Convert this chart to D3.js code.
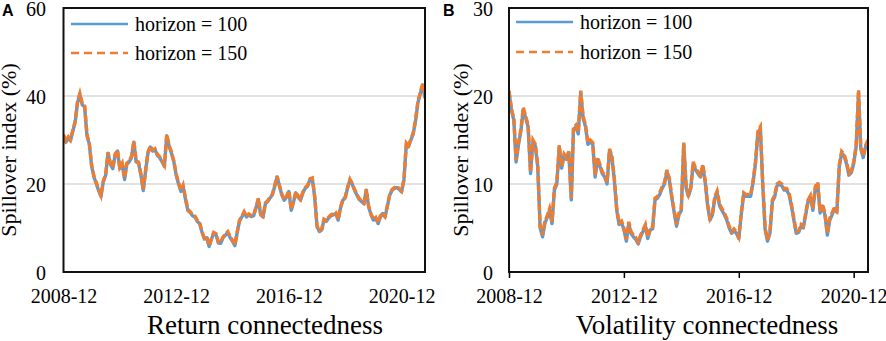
<!DOCTYPE html>
<html><head><meta charset="utf-8">
<script src="https://cdn.jsdelivr.net/npm/d3@7"></script>
<style>body{margin:0;background:#fff}svg{display:block}svg text{font-family:'Liberation Serif','Times New Roman',serif}</style>
</head><body>
<svg id="chart" width="886" height="341"></svg>
<script>
// ---- Data (monthly readings from the reference) ----
const seriesNames = ["horizon = 100", "horizon = 150"];
const xTickLabels = ["2008-12", "2012-12", "2016-12", "2020-12"];
const yTicksA = [0, 20, 40, 60];
const yTicksB = [0, 10, 20, 30];
const startA = "2008-12", endA = "2021-10";
const startB = "2008-12", endB = "2021-06";

const returnH100 = [31,29.5,30.5,29.8,32,34,38.5,40.3,38,37.5,
31,29,24,21.5,20,18.5,17.2,20.5,22,27,
24.5,23.5,26.5,27.5,23.5,24.6,21,24.5,25,26,
29.5,25,24.8,22,18.5,23,27,28.4,27.5,27.8,
26.5,26,25,24,31,28.5,27,25,22,20,
18.3,19.5,16.5,14,13.5,12.8,12.5,11.5,11,9,
7.5,7.8,5.8,7.3,8.8,8.5,6.6,6.5,7.8,8.4,
9,7.8,7,6,9,11.5,12.5,13.5,12.5,13,
12.6,12.8,14.5,16.5,13,12.5,15.5,16,16.8,17.5,
19.5,21.6,19.5,17.5,16.3,17,18.3,14,16,18,
17,16.3,18,19,19.5,21,21.2,17,10.3,9.2,
9.6,11.8,11.5,12.3,12.8,13,13.3,11.8,14.5,16.3,
16.8,19,20.9,20,18.6,17.5,16.5,16,15.5,18.6,
14.8,13,11.8,12.2,11,12.5,13.3,12.5,15,17.5,
18.6,19,19.2,18.8,18.2,20.9,29,28.5,30,31.4,
34.4,38.5,40.5,42.5,39.5];
const returnH150 = [31.2,29.8,30.7,30,32.3,34.2,38.8,40.6,38.3,37.8,
31.3,29.2,24.3,21.7,20.2,18.8,17.4,20.7,22.3,27.2,
24.7,23.8,26.8,27.7,23.8,24.8,21.3,24.7,25.2,26.3,
29.7,25.3,25,22.3,18.8,23.2,27.3,28.6,27.7,28,
26.8,26.2,25.3,24.3,31.2,28.7,27.3,25.2,22.3,20.2,
18.5,19.7,16.8,14.2,13.7,13,12.7,11.7,11.2,9.2,
7.7,8,6,7.5,9,8.7,6.8,6.7,8,8.6,
9.2,8,7.2,6.2,9.2,11.7,12.7,13.7,12.7,13.2,
12.8,13,14.7,16.7,13.2,12.7,15.7,16.2,17,17.7,
19.7,21.8,19.7,17.7,16.5,17.2,18.5,14.2,16.2,18.2,
17.2,16.5,18.2,19.2,19.7,21.2,21.4,17.2,10.5,9.4,
9.8,12,11.7,12.5,13,13.2,13.5,12,14.7,16.5,
17,19.2,21.1,20.2,18.8,17.7,16.7,16.2,15.7,18.8,
15,13.2,12,12.4,11.2,12.7,13.5,12.7,15.2,17.7,
18.8,19.2,19.4,19,18.4,21.1,29.3,28.7,30.2,31.6,
34.6,38.8,40.8,42.8,39.8];

const volH100 = [20.5,18.4,17.2,12.5,14.5,16,18.5,17.5,16.5,11.2,
14.8,14.3,12,5,4,5.5,6.2,7,5.5,9.3,
10,14.2,11.8,13.2,12.8,13.5,8.2,16.2,16.5,15.7,
20.4,17.5,16.5,14.5,14.8,14.5,10.8,12.8,12,11.2,
10.8,10,13.8,13,10.5,7,5.4,5.6,4.8,3.5,
5.5,4.4,4,3.7,3.2,4,4.6,5.2,3.8,4.8,
4.9,8.2,8.4,8.8,9.5,10,11.4,10.5,8.5,6.8,
5.2,6.5,7,14.5,9.5,8.6,9.5,12.3,11.6,11.2,
10.8,12,10.2,7.5,5.9,6.5,8.4,9,7.5,7,
6.5,5.9,5,4.4,4.7,4.4,3.8,6.5,8.8,8.6,
8.6,8.6,10.2,12.3,15.8,16.3,10,4.8,3.5,4.4,
8,8.5,9.8,10,9.8,9.3,9.3,8.8,7.5,5.9,
4.4,4.5,5.2,5,6.5,8,8.5,7,9.5,10,
6.7,7.5,6.5,4.2,5.9,6.5,7.2,6.8,12,13.5,
13.2,12.3,11,11.3,12.3,14.2,20.4,14,13,14.2,
14.8];
const volH150 = [20.6,18.6,17.4,12.7,14.7,16.2,18.7,17.7,16.7,11.4,
15,14.5,12.2,5.2,4.2,5.7,6.4,7.2,5.7,9.5,
10.2,14.4,12,13.4,13,13.7,8.4,16.4,16.7,15.9,
20.6,17.7,16.7,14.7,15,14.7,11,13,12.2,11.4,
11,10.2,14,13.2,10.7,7.2,5.6,5.8,5,3.7,
5.7,4.6,4.2,3.9,3.4,4.2,4.8,5.4,4,5,
5.1,8.4,8.6,9,9.7,10.2,11.6,10.7,8.7,7,
5.4,6.7,7.2,14.7,9.7,8.8,9.7,12.5,11.8,11.4,
11,12.2,10.4,7.7,6.1,6.7,8.6,9.2,7.7,7.2,
6.7,6.1,5.2,4.6,4.9,4.6,4,6.7,9,8.8,
8.8,8.8,10.4,12.5,16,16.5,10.2,5,3.7,4.6,
8.2,8.7,10,10.2,10,9.5,9.5,9,7.7,6.1,
4.6,4.7,5.4,5.2,6.7,8.2,8.7,7.2,9.7,10.2,
6.9,7.7,6.7,4.4,6.1,6.7,7.4,7,12.2,13.7,
13.4,12.5,11.2,11.5,12.5,14.4,20.7,14.2,13.2,14.4,
15];

// ---- Drawing ----
const svg = d3.select("#chart");
svg.append("rect").attr("width", 886).attr("height", 341).attr("fill", "#fff");
const parseM = d3.timeParse("%Y-%m");
const fmtM = d3.timeFormat("%Y-%m");
const BLUE = "#5B9BD5", ORANGE = "#ED7D31";
const SERIF = "'Liberation Serif','Times New Roman',serif";

function drawPanel(cfg) {
  const months = d3.timeMonth.range(parseM(cfg.start), d3.timeMonth.offset(parseM(cfg.end), 1));
  const x = d3.scaleTime().domain([months[0], months[months.length - 1]]).range([cfg.left, cfg.right]);
  const y = d3.scaleLinear().domain([cfg.yTicks[0], cfg.yTicks[cfg.yTicks.length - 1]]).range([cfg.bottom, cfg.top]);
  const g = svg.append("g");

  g.selectAll(".grid").data(cfg.yTicks.slice(1, -1)).join("line")
    .attr("x1", cfg.left).attr("x2", cfg.right)
    .attr("y1", d => y(d)).attr("y2", d => y(d))
    .attr("stroke", "#d9d9d9").attr("stroke-width", 1.5);

  const ya = d3.axisLeft(y).tickValues(cfg.yTicks).tickSize(0).tickPadding(0).tickFormat(d3.format("d"));
  const yg = g.append("g").attr("transform", `translate(${cfg.yLabelX},0)`).call(ya);
  yg.attr("font-family", null).attr("font-size", null);
  yg.select(".domain").remove();
  yg.selectAll("text").style("font-family", SERIF).style("font-size", "20px").attr("fill", "#000").attr("dy", "0.36em");

  const xa = d3.axisBottom(x).tickValues(xTickLabels.map(parseM)).tickFormat(fmtM)
    .tickSize(cfg.xTickSize).tickPadding(cfg.xTickSize ? 11 : 17);
  const xg = g.append("g").attr("transform", `translate(0,${cfg.bottom})`).call(xa);
  xg.attr("font-family", null).attr("font-size", null);
  xg.select(".domain").remove();
  xg.selectAll("line").attr("stroke", "#000").attr("stroke-width", 1.5);
  xg.selectAll("text").style("font-family", SERIF).style("font-size", "20px").attr("fill", "#000");

  const line = d3.line().x((d, i) => x(months[i])).y(d => y(d));
  const clipId = "clip" + cfg.id;
  svg.append("clipPath").attr("id", clipId).append("rect")
    .attr("x", cfg.left).attr("y", cfg.top).attr("width", cfg.right - cfg.left).attr("height", cfg.bottom - cfg.top);
  g.append("path").datum(cfg.s1).attr("d", line).attr("fill", "none")
    .attr("stroke", BLUE).attr("stroke-width", 3.4).attr("stroke-linejoin", "round").attr("clip-path", `url(#${clipId})`);
  g.append("path").datum(cfg.s2).attr("d", line).attr("fill", "none")
    .attr("stroke", ORANGE).attr("stroke-width", 3.4).attr("stroke-dasharray", "7,2.5").attr("clip-path", `url(#${clipId})`);

  g.append("rect").attr("x", cfg.left).attr("y", cfg.top)
    .attr("width", cfg.right - cfg.left).attr("height", cfg.bottom - cfg.top)
    .attr("fill", "none").attr("stroke", "#111").attr("stroke-width", 2);

  const leg = g.append("g");
  seriesNames.forEach((name, i) => {
    const ly = cfg.legY[i];
    leg.append("line").attr("x1", cfg.legX).attr("x2", cfg.legX + 57).attr("y1", ly).attr("y2", ly)
      .attr("stroke", i === 0 ? BLUE : ORANGE).attr("stroke-width", 2.5)
      .attr("stroke-dasharray", i === 0 ? null : "8,5");
    leg.append("text").attr("x", cfg.legX + 64).attr("y", ly).attr("dy", "0.34em")
      .style("font-family", SERIF).style("font-size", "20px").attr("fill", "#000").text(name);
  });

  g.append("text").attr("transform", `translate(${cfg.yTitleX},${(cfg.top + cfg.bottom) / 2 + 10}) rotate(-90)`)
    .attr("text-anchor", "middle").style("font-family", SERIF).style("font-size", "22px").attr("fill", "#000")
    .text("Spillover index (%)");
  g.append("text").attr("x", cfg.titleX).attr("y", 334).attr("text-anchor", "middle")
    .style("font-family", SERIF).style("font-size", "27px").attr("fill", "#000").text(cfg.title);

  g.append("text").attr("x", cfg.letterX).attr("y", 16).style("font-family", "'Liberation Sans',Arial,sans-serif")
    .attr("font-weight", "bold").style("font-size", "16px").attr("fill", "#000").text(cfg.letter);
}

drawPanel({id: "A", letter: "A", letterX: 2, start: startA, end: endA, s1: returnH100, s2: returnH150,
  yTicks: yTicksA, left: 63.5, right: 425, top: 8, bottom: 272, yLabelX: 46, xTickSize: 0,
  legX: 71, legY: [24, 53], yTitleX: 16, titleX: 265, title: "Return connectedness"});
drawPanel({id: "B", letter: "B", letterX: 443, start: startB, end: endB, s1: volH100, s2: volH150,
  yTicks: yTicksB, left: 509, right: 868, top: 8, bottom: 272, yLabelX: 493, xTickSize: 6,
  legX: 516, legY: [22, 52], yTitleX: 468, titleX: 707, title: "Volatility connectedness"});
</script>
</body></html>
